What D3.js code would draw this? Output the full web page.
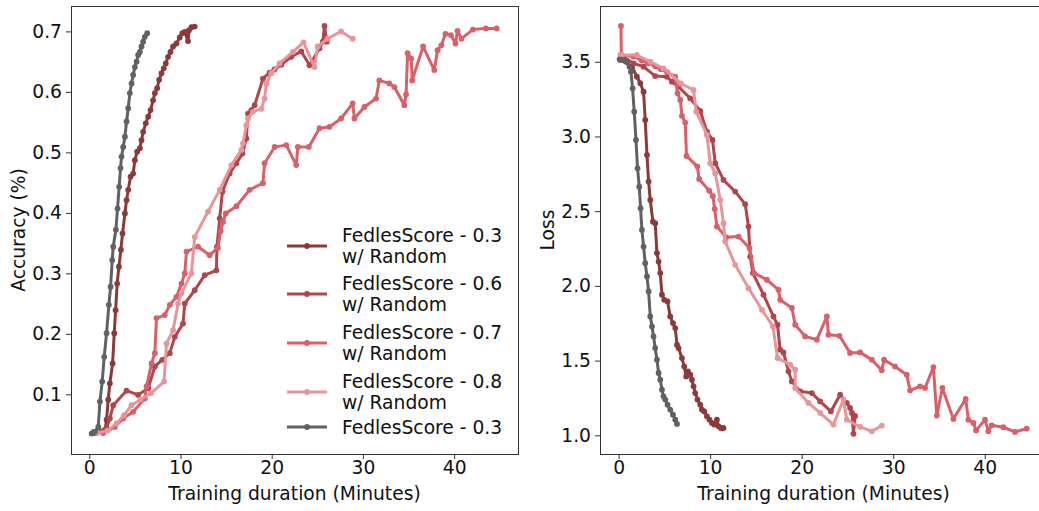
<!DOCTYPE html>
<html><head><meta charset="utf-8">
<script src="https://cdn.jsdelivr.net/npm/d3@7"></script>
<style>body{margin:0;background:#fff} text{font-family:"DejaVu Sans",sans-serif;fill:#111}</style>
</head><body><svg id="c" width="1039" height="511"></svg>
<script>
// ---------------- DATA ----------------
const seriesLabels = [["FedlesScore - 0.3","w/ Random"],["FedlesScore - 0.6","w/ Random"],["FedlesScore - 0.7","w/ Random"],["FedlesScore - 0.8","w/ Random"],["FedlesScore - 0.3"]];
const seriesColors = ["#8b3a3a","#b0464c","#d95f69","#e8959a","#616161"];
const xTicks = [0,10,20,30,40];
const accTicks = [0.1,0.2,0.3,0.4,0.5,0.6,0.7];
const lossTicks = [1.0,1.5,2.0,2.5,3.0,3.5];

// FedlesScore - 0.3 w/ Random
const accT_03R = [0.6,1.72,1.90,2.08,2.26,2.56,2.74,2.89,3.06,3.25,3.47,3.65,3.91,4.09,4.27,4.53,4.81,5.00,5.25,5.55,5.73,5.91,6.20,6.46,6.72,7.00,7.19,7.44,7.66,7.92,8.17,8.39,8.64,8.90,9.19,9.56,9.92,10.20,10.47,10.83,10.94,11.20,11.56];
const acc_03R  = [0.036,0.041,0.058,0.091,0.118,0.151,0.201,0.239,0.283,0.311,0.339,0.366,0.399,0.421,0.438,0.460,0.465,0.487,0.501,0.507,0.520,0.534,0.548,0.559,0.570,0.586,0.598,0.606,0.620,0.631,0.639,0.647,0.658,0.666,0.675,0.680,0.690,0.697,0.699,0.684,0.702,0.707,0.708];
const lossT_03R = [0.19,1.46,2.0,2.37,2.73,2.91,3.10,3.28,3.46,3.75,4.0,4.19,4.37,4.55,4.74,4.99,5.35,5.64,5.94,6.19,6.38,6.55,6.92,7.17,7.39,7.58,7.83,8.01,8.19,8.37,8.62,8.92,9.10,9.36,9.65,9.93,10.2,10.45,10.74,10.92,11.18,11.46];
const loss_03R  = [3.512,3.467,3.40,3.356,3.299,3.110,2.876,2.698,2.575,2.430,2.420,2.219,2.163,2.086,1.941,1.907,1.896,1.795,1.751,1.718,1.606,1.584,1.517,1.461,1.394,1.428,1.406,1.372,1.328,1.283,1.239,1.205,1.172,1.160,1.127,1.105,1.083,1.072,1.105,1.060,1.049,1.049];

// FedlesScore - 0.6 w/ Random
const accT_06R = [0.8,1.9,2.26,2.63,4.09,5.36,6.46,7.19,8.0,8.83,9.38,10.28,10.47,11.56,12.66,13.94,14.0,14.3,14.6,15.39,16.13,16.8,17.22,17.4,17.77,18.13,19.04,19.77,20.3,21.05,22.14,23.24,24.15,25.24,25.6,25.79,26.04];
const acc_06R  = [0.038,0.044,0.060,0.082,0.106,0.099,0.110,0.146,0.157,0.168,0.195,0.217,0.250,0.272,0.297,0.305,0.344,0.391,0.435,0.465,0.482,0.498,0.523,0.564,0.570,0.578,0.622,0.632,0.637,0.645,0.658,0.667,0.644,0.672,0.683,0.709,0.683];
const lossT_06R = [0.19,0.55,1.64,2.73,4.0,5.28,5.83,6.55,7.83,8.92,9.65,10.26,10.56,11.46,12.74,13.83,14.19,14.38,14.67,15.83,16.92,17.36,17.65,18.01,18.56,18.93,19.84,21.11,22.02,23.19,24.2,24.93,25.29,25.5,25.66,25.84];
const loss_06R  = [3.523,3.533,3.489,3.467,3.404,3.400,3.366,3.333,3.255,3.171,3.032,2.977,2.821,2.709,2.631,2.547,2.397,2.197,2.086,1.941,1.795,1.740,1.573,1.555,1.428,1.361,1.294,1.283,1.227,1.160,1.272,1.217,1.183,1.150,1.010,1.130];

// FedlesScore - 0.7 w/ Random
const accT_07R = [0.44,1.53,2.81,3.72,4.81,6.09,6.28,6.83,7.19,7.37,8.28,8.83,9.56,10.11,10.47,10.66,11.93,13.2,14.1,14.4,14.66,14.96,16.13,17.58,19.04,19.22,20.32,21.6,22.69,22.87,24.07,25.24,26.33,27.61,28.88,29.07,30.16,31.44,31.8,32.9,33.45,34.54,34.73,34.9,35.3,35.4,36.6,37.82,38.18,38.6,39.05,39.65,40.15,40.37,40.8,42.05,43.48,44.66];
const acc_07R  = [0.038,0.036,0.046,0.060,0.071,0.093,0.113,0.151,0.168,0.226,0.231,0.248,0.261,0.283,0.300,0.336,0.344,0.330,0.342,0.370,0.385,0.399,0.411,0.438,0.449,0.482,0.509,0.512,0.479,0.509,0.509,0.540,0.542,0.556,0.581,0.556,0.575,0.589,0.619,0.614,0.608,0.578,0.596,0.664,0.655,0.619,0.675,0.636,0.669,0.677,0.696,0.694,0.680,0.701,0.688,0.703,0.705,0.705];
const lossT_07R = [0.26,0.3,1.6,2.5,3.2,4.0,4.6,5.3,6.19,6.44,6.74,6.92,7.28,7.42,8.6,8.8,9.9,10.3,10.5,10.74,11.75,13.1,14.3,14.8,16.2,17.47,17.65,18.93,19.29,20.38,21.66,22.75,22.93,24.13,25.29,26.39,27.66,28.75,29.0,30.2,31.48,31.84,32.94,33.48,34.39,34.76,35.37,36.57,37.92,38.21,38.76,39.05,40.03,40.39,40.76,42.03,43.31,44.59];
const loss_07R  = [3.739,3.545,3.535,3.510,3.490,3.470,3.450,3.430,3.400,3.289,3.244,3.138,3.093,2.870,2.800,2.715,2.637,2.600,2.515,2.397,2.325,2.330,2.253,2.086,2.041,1.974,1.907,1.852,1.740,1.662,1.640,1.795,1.673,1.666,1.551,1.555,1.506,1.435,1.506,1.461,1.406,1.301,1.328,1.317,1.457,1.132,1.317,1.110,1.243,1.105,1.083,1.033,1.105,1.027,1.067,1.054,1.023,1.045];

// FedlesScore - 0.8 w/ Random
const accT_08R = [0.9,2.0,3.0,3.8,4.64,5.6,6.8,8.2,8.47,9.19,9.74,10.11,11.2,11.56,13.02,14.3,15.58,16.67,16.85,17.22,17.4,17.94,18.86,19.22,19.41,19.96,20.86,22.32,23.49,24.69,25.05,26.15,27.61,28.88];
const acc_08R  = [0.036,0.040,0.052,0.065,0.082,0.091,0.102,0.121,0.184,0.206,0.250,0.267,0.300,0.360,0.402,0.438,0.479,0.504,0.515,0.545,0.556,0.567,0.572,0.589,0.614,0.631,0.647,0.666,0.682,0.641,0.675,0.688,0.700,0.688];
const lossT_08R = [0.19,2.0,3.46,4.91,6.8,8.19,8.48,9.65,10.01,10.56,11.1,11.46,11.65,12.74,14.19,15.66,16.86,17.36,18.74,19.29,19.29,20.74,22.02,23.47,24.56,24.93,26.39,27.66,28.75];
const loss_08R  = [3.545,3.545,3.500,3.456,3.355,3.311,3.166,3.010,2.820,2.754,2.576,2.420,2.297,2.141,1.985,1.840,1.729,1.517,1.473,1.439,1.317,1.217,1.150,1.072,1.239,1.105,1.056,1.027,1.065];

// FedlesScore - 0.3
const accT_03 = [0.26,0.62,0.99,1.17,1.42,1.64,1.90,2.15,2.34,2.52,2.63,2.92,3.10,3.28,3.43,3.54,3.72,3.91,4.09,4.27,4.45,4.64,4.81,5.00,5.19,5.36,5.55,5.73,5.91,6.09,6.35];
const acc_03  = [0.035,0.038,0.046,0.088,0.121,0.162,0.201,0.248,0.278,0.322,0.344,0.372,0.407,0.443,0.474,0.493,0.509,0.526,0.551,0.573,0.598,0.614,0.628,0.641,0.650,0.661,0.666,0.675,0.683,0.691,0.697];
const lossT_03 = [0.11,0.55,0.92,1.20,1.35,1.53,1.71,1.90,2.07,2.26,2.40,2.55,2.73,2.91,3.10,3.28,3.46,3.65,3.82,4.00,4.19,4.37,4.55,4.74,4.91,5.10,5.35,5.64,5.94,6.19,6.38];
const loss_03  = [3.516,3.511,3.500,3.467,3.433,3.322,3.166,2.977,2.787,2.664,2.520,2.375,2.263,2.152,2.063,1.963,1.795,1.729,1.662,1.584,1.506,1.417,1.372,1.305,1.261,1.239,1.205,1.172,1.138,1.105,1.076];

// ---------------- DRAW ----------------
const accSeries = [[accT_03R,acc_03R],[accT_06R,acc_06R],[accT_07R,acc_07R],[accT_08R,acc_08R],[accT_03,acc_03]];
const lossSeries = [[lossT_03R,loss_03R],[lossT_06R,loss_06R],[lossT_07R,loss_07R],[lossT_08R,loss_08R],[lossT_03,loss_03]];
const FS = "18.7px";
const MR = 2.9;

const svg = d3.select("#c");
svg.append("rect").attr("width",1039).attr("height",511).attr("fill","#fff");

function panel(box, xDom, yDom, yTicks, series, yLabel, yLabelX) {
  const x = d3.scaleLinear().domain(xDom).range([box.x0, box.x1]);
  const y = d3.scaleLinear().domain(yDom).range([box.y1, box.y0]);
  const g = svg.append("g");
  const clipId = "clip" + Math.round(box.x0);
  g.append("clipPath").attr("id", clipId).append("rect")
    .attr("x", box.x0).attr("y", box.y0).attr("width", box.x1-box.x0).attr("height", box.y1-box.y0);
  const plot = g.append("g").attr("clip-path", `url(#${clipId})`);
  const line = d3.line().x(d=>x(d[0])).y(d=>y(d[1]));
  series.forEach((s,i)=>{
    const pts = s[0].map((t,j)=>[t, s[1][j]]);
    plot.append("path").attr("d", line(pts)).attr("fill","none")
      .attr("stroke", seriesColors[i]).attr("stroke-width",3).attr("stroke-linejoin","round").attr("stroke-linecap","round");
    plot.selectAll(null).data(pts).enter().append("circle")
      .attr("cx",d=>x(d[0])).attr("cy",d=>y(d[1])).attr("r",MR).attr("fill",seriesColors[i]);
  });
  const xa = g.append("g").attr("transform",`translate(0,${box.y1})`)
    .call(d3.axisBottom(x).tickValues(xTicks).tickSize(5).tickPadding(2).tickFormat(d3.format("d")));
  xa.select(".domain").remove();
  xa.selectAll("line").attr("stroke","#333");
  xa.selectAll("text").attr("font-size",FS).attr("fill","#111").attr("font-family","DejaVu Sans");
  const ya = g.append("g").attr("transform",`translate(${box.x0},0)`)
    .call(d3.axisLeft(y).tickValues(yTicks).tickSize(5).tickPadding(4).tickFormat(d3.format(".1f")));
  ya.select(".domain").remove();
  ya.selectAll("line").attr("stroke","#333");
  ya.selectAll("text").attr("font-size",FS).attr("fill","#111").attr("font-family","DejaVu Sans");
  g.append("rect").attr("x",box.x0+0.5).attr("y",box.y0+0.5).attr("width",box.x1-box.x0).attr("height",box.y1-box.y0)
    .attr("fill","none").attr("stroke","#333").attr("stroke-width",1);
  g.append("text").attr("x",(box.x0+box.x1)/2).attr("y",box.y1+46).attr("text-anchor","middle")
    .attr("font-size",FS).text("Training duration (Minutes)");
  g.append("text").attr("transform",`translate(${yLabelX},${(box.y0+box.y1)/2}) rotate(-90)`)
    .attr("text-anchor","middle").attr("font-size",FS).text(yLabel);
  return g;
}

const left = panel({x0:71,x1:518,y0:6,y1:454}, [-2.0,47.0], [0.0013,0.742], accTicks, accSeries, "Accuracy (%)", 25);
panel({x0:600,x1:1047,y0:6,y1:454}, [-2.03,46.8], [0.875,3.873], lossTicks, lossSeries, "Loss", 554);

// legend
const legendY = [246, 294, 343, 392, 427];
seriesLabels.forEach((lab,i)=>{
  const yy = legendY[i];
  left.append("line").attr("x1",287).attr("x2",327).attr("y1",yy).attr("y2",yy)
    .attr("stroke",seriesColors[i]).attr("stroke-width",3);
  left.append("circle").attr("cx",307).attr("cy",yy).attr("r",MR).attr("fill",seriesColors[i]);
  const t = left.append("text").attr("x",342).attr("font-size",FS);
  if (lab.length === 2) {
    t.append("tspan").attr("x",342).attr("y",yy-4.5).text(lab[0]);
    t.append("tspan").attr("x",342).attr("y",yy+16.5).text(lab[1]);
  } else {
    t.append("tspan").attr("x",342).attr("y",yy+6.5).text(lab[0]);
  }
});
</script></body></html>
